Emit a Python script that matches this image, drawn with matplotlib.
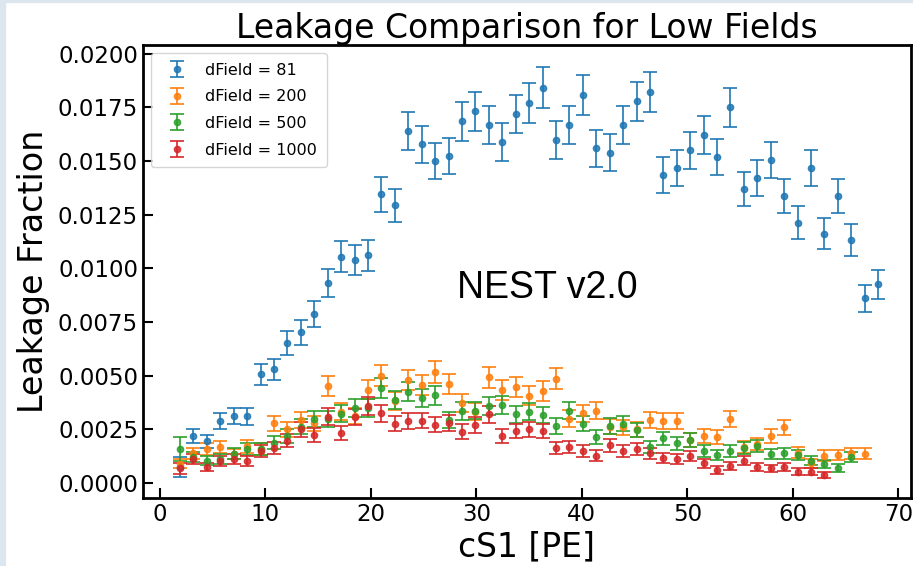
import numpy as np
import matplotlib
matplotlib.use("Agg")
import matplotlib.pyplot as plt
from matplotlib.patches import Rectangle

# bin centres in cS1 [PE]
cs1 = [1.909, 3.182, 4.455, 5.727, 7.000, 8.273, 9.545, 10.818, 12.091, 13.364,
       14.636, 15.909, 17.182, 18.455, 19.727, 21.000, 22.273, 23.545, 24.818, 26.091,
       27.364, 28.636, 29.909, 31.182, 32.455, 33.727, 35.000, 36.273, 37.545, 38.818,
       40.091, 41.364, 42.636, 43.909, 45.182, 46.455, 47.727, 49.000, 50.273, 51.545,
       52.818, 54.091, 55.364, 56.636, 57.909, 59.182, 60.455, 61.727, 63.000, 64.273,
       65.545, 66.818, 68.091]

leak_81 = [0.00075, 0.0022, 0.00195, 0.0029, 0.00312, 0.0031, 0.00506, 0.00529, 0.00653, 0.00703,
           0.00788, 0.0093, 0.01054, 0.0104, 0.0106, 0.01344, 0.01293, 0.0164, 0.01577, 0.01499,
           0.01524, 0.01685, 0.01732, 0.01667, 0.01589, 0.01718, 0.0177, 0.01842, 0.01597, 0.01667,
           0.01808, 0.01558, 0.01538, 0.01667, 0.01777, 0.01822, 0.01434, 0.01468, 0.0155, 0.01621,
           0.01519, 0.0175, 0.01369, 0.01421, 0.01505, 0.01337, 0.01213, 0.01466, 0.01162, 0.01337,
           0.01131, 0.0086, 0.00925]
err_81 = [0.00045, 0.00032, 0.0003, 0.00037, 0.00038, 0.00038, 0.00049, 0.0005, 0.00056, 0.00058,
          0.00061, 0.00066, 0.00071, 0.0007, 0.00071, 0.0008, 0.00078, 0.00088, 0.00087, 0.00084,
          0.00085, 0.0009, 0.00091, 0.00089, 0.00087, 0.0009, 0.00092, 0.00094, 0.00087, 0.00089,
          0.00093, 0.00086, 0.00086, 0.00089, 0.00092, 0.00093, 0.00083, 0.00084, 0.00086, 0.00088,
          0.00085, 0.00091, 0.00081, 0.00082, 0.00085, 0.0008, 0.00076, 0.00084, 0.00074, 0.0008,
          0.00073, 0.00064, 0.00066]

leak_200 = [0.0009, 0.00138, 0.00157, 0.00168, 0.00135, 0.0017, 0.0016, 0.00278, 0.0025, 0.00293,
            0.00278, 0.00453, 0.00332, 0.00312, 0.00435, 0.005, 0.00383, 0.0048, 0.00458, 0.00518,
            0.00461, 0.00371, 0.00332, 0.00492, 0.00433, 0.00448, 0.00406, 0.00428, 0.00486, 0.003,
            0.00324, 0.00337, 0.00262, 0.0026, 0.0025, 0.00292, 0.0029, 0.0029, 0.002, 0.0022,
            0.00213, 0.00298, 0.00169, 0.00182, 0.0022, 0.00259, 0.00141, 0.00092, 0.00127, 0.0013,
            0.00138, 0.00136]
err_200 = [0.00021, 0.00026, 0.00027, 0.00028, 0.00025, 0.00028, 0.00028, 0.00036, 0.00035, 0.00037,
           0.00036, 0.00046, 0.0004, 0.00039, 0.00046, 0.00049, 0.00043, 0.00048, 0.00047, 0.0005,
           0.00047, 0.00042, 0.0004, 0.00048, 0.00045, 0.00046, 0.00044, 0.00045, 0.00048, 0.00038,
           0.00039, 0.0004, 0.00035, 0.00035, 0.00035, 0.00037, 0.00037, 0.00037, 0.00031, 0.00032,
           0.00032, 0.00038, 0.00028, 0.00029, 0.00032, 0.00035, 0.00026, 0.00021, 0.00025, 0.00025,
           0.00026, 0.00025]

leak_500 = [0.00157, 0.00122, 0.00104, 0.0011, 0.00137, 0.00157, 0.0016, 0.00188, 0.00219, 0.00262,
            0.00297, 0.00299, 0.00322, 0.00348, 0.0035, 0.00441, 0.00386, 0.00425, 0.00396, 0.00408,
            0.00292, 0.00335, 0.00336, 0.00358, 0.00363, 0.0032, 0.00332, 0.00317, 0.00266, 0.00337,
            0.00277, 0.00215, 0.00266, 0.00277, 0.00247, 0.00169, 0.00208, 0.00184, 0.002, 0.00149,
            0.0013, 0.0015, 0.00161, 0.00172, 0.00135, 0.00138, 0.0013, 0.00104, 0.00088, 0.00071,
            0.0012]
err_500 = [0.00055, 0.00024, 0.00022, 0.00023, 0.00025, 0.00027, 0.00028, 0.0003, 0.00032, 0.00035,
           0.00038, 0.00038, 0.00039, 0.00041, 0.00041, 0.00046, 0.00043, 0.00045, 0.00043, 0.00044,
           0.00037, 0.0004, 0.0004, 0.00041, 0.00042, 0.00039, 0.0004, 0.00039, 0.00036, 0.0004,
           0.00036, 0.00032, 0.00036, 0.00036, 0.00034, 0.00028, 0.00031, 0.0003, 0.00031, 0.00027,
           0.00025, 0.00027, 0.00028, 0.00029, 0.00025, 0.00026, 0.00025, 0.00022, 0.0002, 0.00018,
           0.00024]

leak_1000 = [0.00068, 0.0011, 0.00073, 0.00103, 0.00112, 0.00103, 0.0015, 0.00161, 0.00197, 0.00251,
             0.00225, 0.00309, 0.00231, 0.00308, 0.00359, 0.00324, 0.00277, 0.0029, 0.00291, 0.00272,
             0.0028, 0.00239, 0.00271, 0.0032, 0.00219, 0.00242, 0.0025, 0.00242, 0.00161, 0.00169,
             0.0015, 0.00127, 0.00175, 0.0015, 0.00157, 0.00138, 0.00115, 0.0011, 0.00125, 0.00092,
             0.00061, 0.00079, 0.00104, 0.00076, 0.00068, 0.00073, 0.00053, 0.00053, 0.00036]
err_1000 = [0.00025, 0.00023, 0.00019, 0.00022, 0.00023, 0.00022, 0.00027, 0.00028, 0.00031, 0.00035,
            0.00033, 0.00038, 0.00033, 0.00038, 0.00041, 0.00039, 0.00036, 0.00037, 0.00037, 0.00036,
            0.00037, 0.00034, 0.00036, 0.00039, 0.00032, 0.00034, 0.00035, 0.00034, 0.00028, 0.00028,
            0.00027, 0.00025, 0.00029, 0.00027, 0.00027, 0.00026, 0.00023, 0.00023, 0.00024, 0.00021,
            0.00017, 0.00019, 0.00022, 0.00019, 0.00018, 0.00019, 0.00016, 0.00016, 0.00013]

series = [(leak_81, err_81, "dField = 81", "tab:blue"),
          (leak_200, err_200, "dField = 200", "tab:orange"),
          (leak_500, err_500, "dField = 500", "tab:green"),
          (leak_1000, err_1000, "dField = 1000", "tab:red")]

fig = plt.figure(figsize=(9.13, 5.66), dpi=100)
ax = fig.add_axes([0.1566, 0.1201, 0.8412, 0.8004])

for y, e, lab, c in series:
    ax.errorbar(cs1[:len(y)], y, yerr=e, fmt="o", ms=4.5, color=c, ecolor=c,
                elinewidth=1.4, capsize=5, capthick=1.4, alpha=0.85, label=lab)

ax.set_xlim(-1.6, 71.2)
ax.set_ylim(-0.0007, 0.0204)
ax.set_xticks([0, 10, 20, 30, 40, 50, 60, 70])
ax.set_yticks([0.0, 0.0025, 0.005, 0.0075, 0.01, 0.0125, 0.015, 0.0175, 0.02])
ax.yaxis.set_major_formatter(matplotlib.ticker.FormatStrFormatter("%.4f"))
ax.tick_params(direction="in", length=7, width=1.5, labelsize=16.5, top=False, right=False)
for s in ax.spines.values():
    s.set_linewidth(2)

ax.set_title("Leakage Comparison for Low Fields", fontsize=23.8, pad=5)
ax.set_xlabel("cS1 [PE]", fontsize=23.8, labelpad=3)
ax.set_ylabel("Leakage Fraction", fontsize=24, labelpad=6)
ax.legend(loc="upper left", fontsize=11.5, labelspacing=0.73, borderpad=0.6,
          handletextpad=0.8)

ax.text(28.2, 0.00908, "NEST v2.0", fontsize=27, family="Liberation Sans",
        ha="left", va="center")

# light frame of the screenshot
fig.patches.append(Rectangle((0, 0), 5 / 913, 1, transform=fig.transFigure,
                             color="#dce6ee", zorder=0))
fig.patches.append(Rectangle((0, 1 - 2 / 566), 1, 2 / 566, transform=fig.transFigure,
                             color="#dce6ee", zorder=0))

fig.savefig("out.png", dpi=100)
